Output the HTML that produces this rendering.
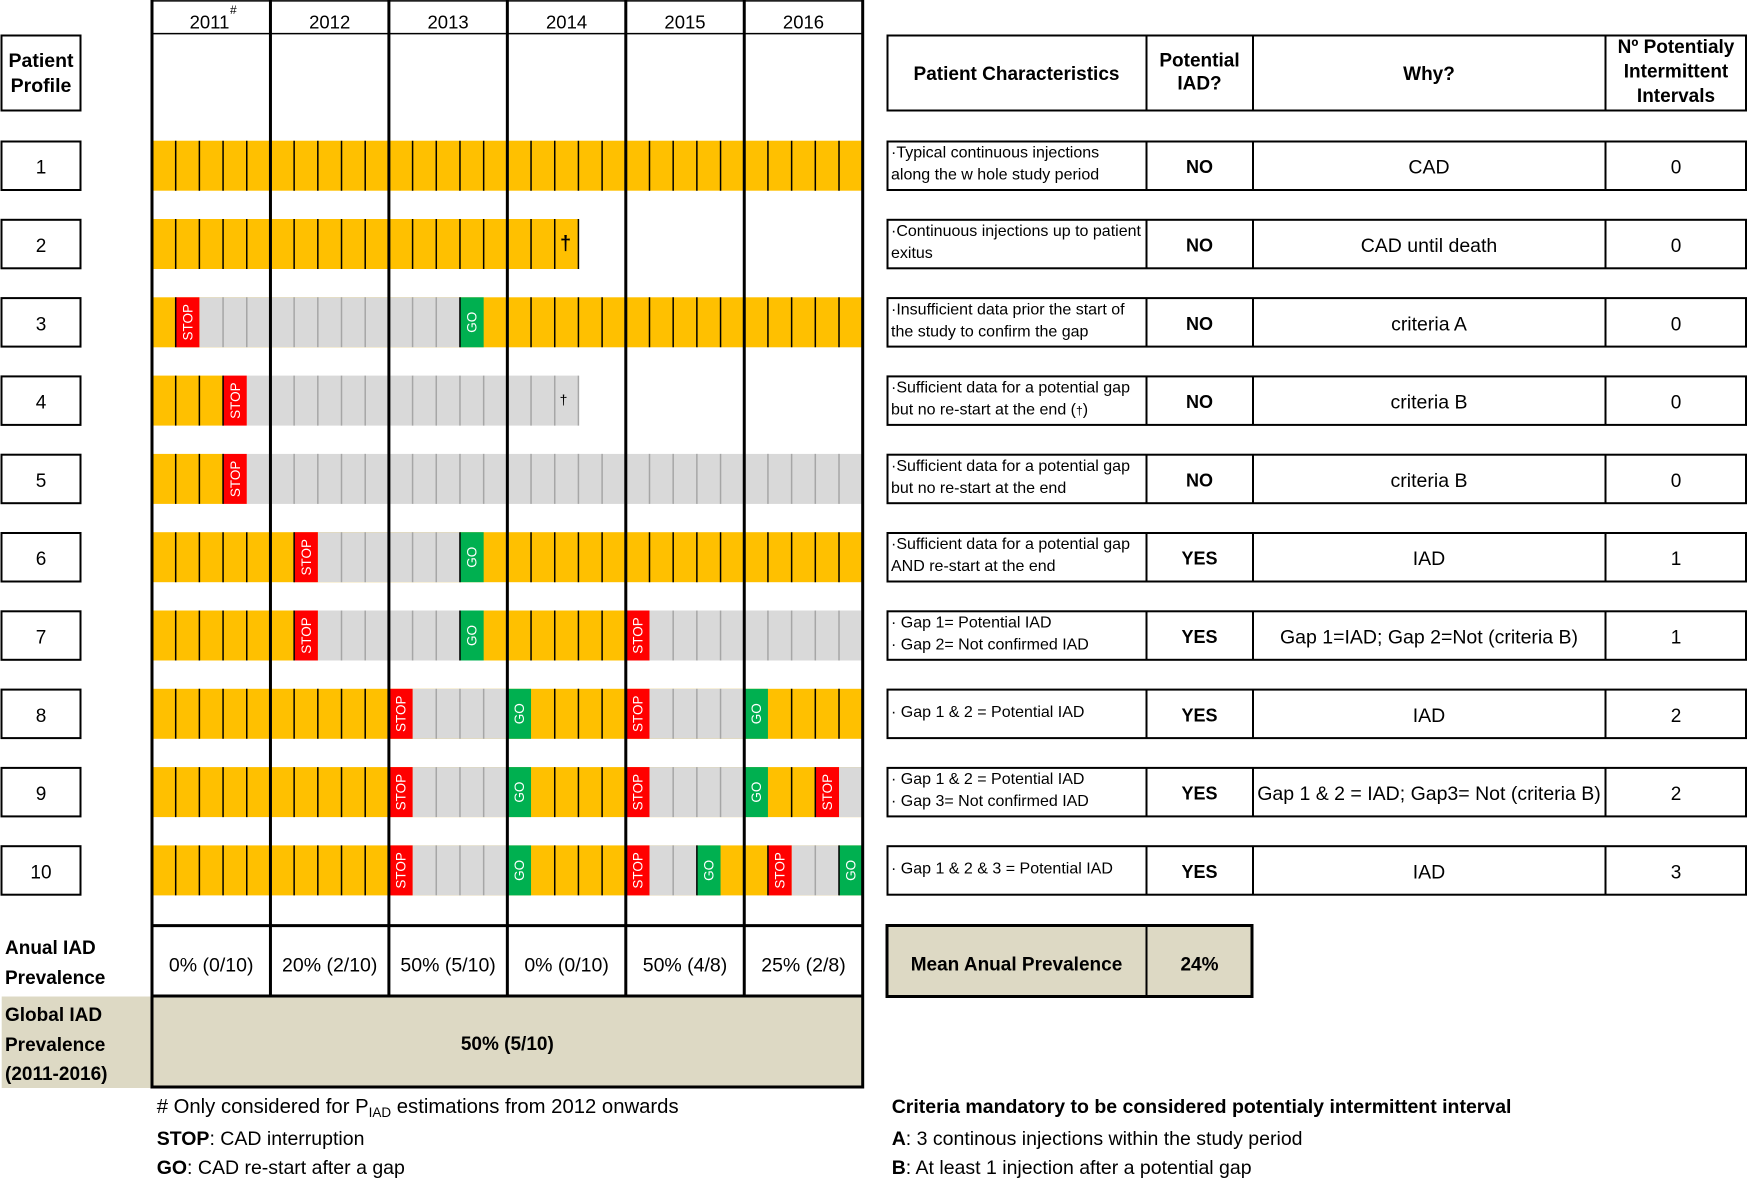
<!DOCTYPE html>
<html><head><meta charset="utf-8">
<style>
html,body{margin:0;padding:0;background:#fff}
svg{display:block}
.st{font-size:13.5px;fill:#fff}
.gd{font-size:13.5px;fill:#fff}
.b{font-weight:bold}
</style></head>
<body>
<svg xmlns="http://www.w3.org/2000/svg" width="1748" height="1178" viewBox="0 0 1748 1178" font-family="'Liberation Sans', Arial, sans-serif">
<rect width="1748" height="1178" fill="#fff"/>

<!-- Global row fills -->
<rect x="152" y="996" width="710.7" height="91" fill="#DDD9C4"/>
<rect x="1.7" y="996.5" width="149.5" height="91.5" fill="#DDD9C4"/>

<!-- ROW 1 -->
<g transform="translate(0,140.7)">
<rect x="152" y="0" width="710.7" height="50" fill="#FFC000"/>
<path stroke="#000" stroke-width="1.5" d="M175.69 0v50M199.38 0v50M223.07 0v50M246.76 0v50M294.14 0v50M317.83 0v50M341.52 0v50M365.21 0v50M412.59 0v50M436.28 0v50M459.97 0v50M483.66 0v50M531.04 0v50M554.73 0v50M578.42 0v50M602.11 0v50M649.49 0v50M673.18 0v50M696.87 0v50M720.56 0v50M767.94 0v50M791.63 0v50M815.32 0v50M839.01 0v50"/>
</g>

<!-- ROW 2 -->
<g transform="translate(0,219)">
<rect x="152" y="0" width="426.42" height="50" fill="#FFC000"/>
<path stroke="#000" stroke-width="1.5" d="M175.69 0v50M199.38 0v50M223.07 0v50M246.76 0v50M294.14 0v50M317.83 0v50M341.52 0v50M365.21 0v50M412.59 0v50M436.28 0v50M459.97 0v50M483.66 0v50M531.04 0v50M554.73 0v50M578.42 0v50"/>
<text x="565.5" y="31" font-size="20" font-weight="bold" text-anchor="middle">†</text>
</g>

<!-- ROW 3 -->
<g transform="translate(0,297.3)">
<rect x="152" y="0" width="710.7" height="50" fill="#FFC000"/>
<rect x="199.38" y="0" width="260.59" height="50" fill="#D9D9D9"/>
<rect x="175.69" y="0" width="23.69" height="50" fill="#FF0000"/>
<rect x="459.97" y="0" width="23.69" height="50" fill="#00B050"/>
<path stroke="#A6A6A6" stroke-width="1.5" d="M223.07 0v50M246.76 0v50M294.14 0v50M317.83 0v50M341.52 0v50M365.21 0v50M412.59 0v50M436.28 0v50"/>
<path stroke="#000" stroke-width="1.5" d="M175.69 0v50M459.97 0v50M531.04 0v50M554.73 0v50M578.42 0v50M602.11 0v50M649.49 0v50M673.18 0v50M696.87 0v50M720.56 0v50M767.94 0v50M791.63 0v50M815.32 0v50M839.01 0v50"/>
<text class="st" transform="translate(187.54,25) rotate(-90)" text-anchor="middle" dy="0.36em">STOP</text>
<text class="gd" transform="translate(471.82,25) rotate(-90)" text-anchor="middle" dy="0.36em">GO</text>
</g>

<!-- ROW 4 -->
<g transform="translate(0,375.6)">
<rect x="152" y="0" width="71.07" height="50" fill="#FFC000"/>
<rect x="246.76" y="0" width="331.66" height="50" fill="#D9D9D9"/>
<rect x="223.07" y="0" width="23.69" height="50" fill="#FF0000"/>
<path stroke="#A6A6A6" stroke-width="1.5" d="M294.14 0v50M317.83 0v50M341.52 0v50M365.21 0v50M412.59 0v50M436.28 0v50M459.97 0v50M483.66 0v50M531.04 0v50M554.73 0v50M578.42 0v50"/>
<path stroke="#000" stroke-width="1.5" d="M175.69 0v50M199.38 0v50M223.07 0v50"/>
<text class="st" transform="translate(234.92,25) rotate(-90)" text-anchor="middle" dy="0.36em">STOP</text>
<text x="563.5" y="29" font-size="14" text-anchor="middle">†</text>
</g>

<!-- ROW 5 -->
<g transform="translate(0,453.9)">
<rect x="152" y="0" width="71.07" height="50" fill="#FFC000"/>
<rect x="246.76" y="0" width="615.94" height="50" fill="#D9D9D9"/>
<rect x="223.07" y="0" width="23.69" height="50" fill="#FF0000"/>
<path stroke="#A6A6A6" stroke-width="1.5" d="M294.14 0v50M317.83 0v50M341.52 0v50M365.21 0v50M412.59 0v50M436.28 0v50M459.97 0v50M483.66 0v50M531.04 0v50M554.73 0v50M578.42 0v50M602.11 0v50M649.49 0v50M673.18 0v50M696.87 0v50M720.56 0v50M767.94 0v50M791.63 0v50M815.32 0v50M839.01 0v50"/>
<path stroke="#000" stroke-width="1.5" d="M175.69 0v50M199.38 0v50M223.07 0v50"/>
<text class="st" transform="translate(234.92,25) rotate(-90)" text-anchor="middle" dy="0.36em">STOP</text>
</g>

<!-- ROW 6 -->
<g transform="translate(0,532.2)">
<rect x="152" y="0" width="710.7" height="50" fill="#FFC000"/>
<rect x="317.83" y="0" width="142.14" height="50" fill="#D9D9D9"/>
<rect x="294.14" y="0" width="23.69" height="50" fill="#FF0000"/>
<rect x="459.97" y="0" width="23.69" height="50" fill="#00B050"/>
<path stroke="#A6A6A6" stroke-width="1.5" d="M341.52 0v50M365.21 0v50M412.59 0v50M436.28 0v50"/>
<path stroke="#000" stroke-width="1.5" d="M175.69 0v50M199.38 0v50M223.07 0v50M246.76 0v50M294.14 0v50M459.97 0v50M531.04 0v50M554.73 0v50M578.42 0v50M602.11 0v50M649.49 0v50M673.18 0v50M696.87 0v50M720.56 0v50M767.94 0v50M791.63 0v50M815.32 0v50M839.01 0v50"/>
<text class="st" transform="translate(305.99,25) rotate(-90)" text-anchor="middle" dy="0.36em">STOP</text>
<text class="gd" transform="translate(471.82,25) rotate(-90)" text-anchor="middle" dy="0.36em">GO</text>
</g>

<!-- ROW 7 -->
<g transform="translate(0,610.5)">
<rect x="152" y="0" width="710.7" height="50" fill="#FFC000"/>
<rect x="317.83" y="0" width="142.14" height="50" fill="#D9D9D9"/>
<rect x="649.49" y="0" width="213.21" height="50" fill="#D9D9D9"/>
<rect x="294.14" y="0" width="23.69" height="50" fill="#FF0000"/>
<rect x="459.97" y="0" width="23.69" height="50" fill="#00B050"/>
<rect x="625.8" y="0" width="23.69" height="50" fill="#FF0000"/>
<path stroke="#A6A6A6" stroke-width="1.5" d="M341.52 0v50M365.21 0v50M412.59 0v50M436.28 0v50M673.18 0v50M696.87 0v50M720.56 0v50M767.94 0v50M791.63 0v50M815.32 0v50M839.01 0v50"/>
<path stroke="#000" stroke-width="1.5" d="M175.69 0v50M199.38 0v50M223.07 0v50M246.76 0v50M294.14 0v50M459.97 0v50M531.04 0v50M554.73 0v50M578.42 0v50M602.11 0v50"/>
<text class="st" transform="translate(305.99,25) rotate(-90)" text-anchor="middle" dy="0.36em">STOP</text>
<text class="gd" transform="translate(471.82,25) rotate(-90)" text-anchor="middle" dy="0.36em">GO</text>
<text class="st" transform="translate(637.65,25) rotate(-90)" text-anchor="middle" dy="0.36em">STOP</text>
</g>

<!-- ROW 8 -->
<g transform="translate(0,688.8)">
<rect x="152" y="0" width="710.7" height="50" fill="#FFC000"/>
<rect x="412.59" y="0" width="94.76" height="50" fill="#D9D9D9"/>
<rect x="649.49" y="0" width="94.76" height="50" fill="#D9D9D9"/>
<rect x="388.9" y="0" width="23.69" height="50" fill="#FF0000"/>
<rect x="507.35" y="0" width="23.69" height="50" fill="#00B050"/>
<rect x="625.8" y="0" width="23.69" height="50" fill="#FF0000"/>
<rect x="744.25" y="0" width="23.69" height="50" fill="#00B050"/>
<path stroke="#A6A6A6" stroke-width="1.5" d="M436.28 0v50M459.97 0v50M483.66 0v50M673.18 0v50M696.87 0v50M720.56 0v50"/>
<path stroke="#000" stroke-width="1.5" d="M175.69 0v50M199.38 0v50M223.07 0v50M246.76 0v50M294.14 0v50M317.83 0v50M341.52 0v50M365.21 0v50M554.73 0v50M578.42 0v50M602.11 0v50M791.63 0v50M815.32 0v50M839.01 0v50"/>
<text class="st" transform="translate(400.75,25) rotate(-90)" text-anchor="middle" dy="0.36em">STOP</text>
<text class="gd" transform="translate(519.2,25) rotate(-90)" text-anchor="middle" dy="0.36em">GO</text>
<text class="st" transform="translate(637.65,25) rotate(-90)" text-anchor="middle" dy="0.36em">STOP</text>
<text class="gd" transform="translate(756.1,25) rotate(-90)" text-anchor="middle" dy="0.36em">GO</text>
</g>

<!-- ROW 9 -->
<g transform="translate(0,767.1)">
<rect x="152" y="0" width="710.7" height="50" fill="#FFC000"/>
<rect x="412.59" y="0" width="94.76" height="50" fill="#D9D9D9"/>
<rect x="649.49" y="0" width="94.76" height="50" fill="#D9D9D9"/>
<rect x="839.01" y="0" width="23.69" height="50" fill="#D9D9D9"/>
<rect x="388.9" y="0" width="23.69" height="50" fill="#FF0000"/>
<rect x="507.35" y="0" width="23.69" height="50" fill="#00B050"/>
<rect x="625.8" y="0" width="23.69" height="50" fill="#FF0000"/>
<rect x="744.25" y="0" width="23.69" height="50" fill="#00B050"/>
<rect x="815.32" y="0" width="23.69" height="50" fill="#FF0000"/>
<path stroke="#A6A6A6" stroke-width="1.5" d="M436.28 0v50M459.97 0v50M483.66 0v50M673.18 0v50M696.87 0v50M720.56 0v50"/>
<path stroke="#000" stroke-width="1.5" d="M175.69 0v50M199.38 0v50M223.07 0v50M246.76 0v50M294.14 0v50M317.83 0v50M341.52 0v50M365.21 0v50M554.73 0v50M578.42 0v50M602.11 0v50M791.63 0v50M815.32 0v50"/>
<text class="st" transform="translate(400.75,25) rotate(-90)" text-anchor="middle" dy="0.36em">STOP</text>
<text class="gd" transform="translate(519.2,25) rotate(-90)" text-anchor="middle" dy="0.36em">GO</text>
<text class="st" transform="translate(637.65,25) rotate(-90)" text-anchor="middle" dy="0.36em">STOP</text>
<text class="gd" transform="translate(756.1,25) rotate(-90)" text-anchor="middle" dy="0.36em">GO</text>
<text class="st" transform="translate(827.17,25) rotate(-90)" text-anchor="middle" dy="0.36em">STOP</text>
</g>

<!-- ROW 10 -->
<g transform="translate(0,845.4)">
<rect x="152" y="0" width="710.7" height="50" fill="#FFC000"/>
<rect x="412.59" y="0" width="94.76" height="50" fill="#D9D9D9"/>
<rect x="649.49" y="0" width="47.38" height="50" fill="#D9D9D9"/>
<rect x="791.63" y="0" width="47.38" height="50" fill="#D9D9D9"/>
<rect x="388.9" y="0" width="23.69" height="50" fill="#FF0000"/>
<rect x="507.35" y="0" width="23.69" height="50" fill="#00B050"/>
<rect x="625.8" y="0" width="23.69" height="50" fill="#FF0000"/>
<rect x="696.87" y="0" width="23.69" height="50" fill="#00B050"/>
<rect x="767.94" y="0" width="23.69" height="50" fill="#FF0000"/>
<rect x="839.01" y="0" width="23.69" height="50" fill="#00B050"/>
<path stroke="#A6A6A6" stroke-width="1.5" d="M436.28 0v50M459.97 0v50M483.66 0v50M673.18 0v50M815.32 0v50"/>
<path stroke="#000" stroke-width="1.5" d="M175.69 0v50M199.38 0v50M223.07 0v50M246.76 0v50M294.14 0v50M317.83 0v50M341.52 0v50M365.21 0v50M554.73 0v50M578.42 0v50M602.11 0v50M696.87 0v50M767.94 0v50M839.01 0v50"/>
<text class="st" transform="translate(400.75,25) rotate(-90)" text-anchor="middle" dy="0.36em">STOP</text>
<text class="gd" transform="translate(519.2,25) rotate(-90)" text-anchor="middle" dy="0.36em">GO</text>
<text class="st" transform="translate(637.65,25) rotate(-90)" text-anchor="middle" dy="0.36em">STOP</text>
<text class="gd" transform="translate(708.72,25) rotate(-90)" text-anchor="middle" dy="0.36em">GO</text>
<text class="st" transform="translate(779.79,25) rotate(-90)" text-anchor="middle" dy="0.36em">STOP</text>
<text class="gd" transform="translate(850.86,25) rotate(-90)" text-anchor="middle" dy="0.36em">GO</text>
</g>

<!-- Timeline grid lines -->
<g stroke="#000" fill="none">
<path stroke-width="1.5" d="M152 0.9H862.7M152 33.6H862.7"/>
<path stroke-width="3" d="M152 925.6H862.7M152 996H862.7M152 1087H862.7"/>
<path stroke-width="3" d="M152 0V1088.5M862.7 0V1088.5M270.45 0V996M388.9 0V996M507.35 0V996M625.8 0V996M744.25 0V996"/>
</g>

<!-- Year headers -->
<g font-size="18.5" text-anchor="middle" fill="#000">
<text x="209.5" y="28.5">2011</text>
<text x="329.7" y="28.5">2012</text>
<text x="448.1" y="28.5">2013</text>
<text x="566.6" y="28.5">2014</text>
<text x="685" y="28.5">2015</text>
<text x="803.5" y="28.5">2016</text>
</g>
<text x="230" y="14" font-size="12">#</text>

<!-- Left patient profile boxes -->
<g fill="none" stroke="#000" stroke-width="2">
<rect x="1.5" y="35.5" width="79" height="75"/>
<rect x="1.5" y="141.5" width="79" height="48.5"/>
<rect x="1.5" y="219.8" width="79" height="48.5"/>
<rect x="1.5" y="298.1" width="79" height="48.5"/>
<rect x="1.5" y="376.4" width="79" height="48.5"/>
<rect x="1.5" y="454.7" width="79" height="48.5"/>
<rect x="1.5" y="533" width="79" height="48.5"/>
<rect x="1.5" y="611.3" width="79" height="48.5"/>
<rect x="1.5" y="689.6" width="79" height="48.5"/>
<rect x="1.5" y="767.9" width="79" height="48.5"/>
<rect x="1.5" y="846.2" width="79" height="48.5"/>
</g>
<g font-size="19.5" font-weight="bold" text-anchor="middle">
<text x="41" y="67">Patient</text>
<text x="41" y="92">Profile</text>
</g>
<g font-size="19" text-anchor="middle">
<text x="41" y="173.7">1</text>
<text x="41" y="252">2</text>
<text x="41" y="330.3">3</text>
<text x="41" y="408.6">4</text>
<text x="41" y="486.9">5</text>
<text x="41" y="565.2">6</text>
<text x="41" y="643.5">7</text>
<text x="41" y="721.8">8</text>
<text x="41" y="800.1">9</text>
<text x="41" y="878.4">10</text>
</g>

<!-- Right table boxes -->
<g fill="none" stroke="#000" stroke-width="2">
<rect x="887.5" y="35.5" width="858.5" height="75"/>
<path d="M1146.5 35.5V110.5M1253 35.5V110.5M1605.5 35.5V110.5"/>
</g>
<g fill="none" stroke="#000" stroke-width="2">
<rect x="887.5" y="141.5" width="858.5" height="48.5"/>
<rect x="887.5" y="219.8" width="858.5" height="48.5"/>
<rect x="887.5" y="298.1" width="858.5" height="48.5"/>
<rect x="887.5" y="376.4" width="858.5" height="48.5"/>
<rect x="887.5" y="454.7" width="858.5" height="48.5"/>
<rect x="887.5" y="533" width="858.5" height="48.5"/>
<rect x="887.5" y="611.3" width="858.5" height="48.5"/>
<rect x="887.5" y="689.6" width="858.5" height="48.5"/>
<rect x="887.5" y="767.9" width="858.5" height="48.5"/>
<rect x="887.5" y="846.2" width="858.5" height="48.5"/>
<path d="M1146.5 141.5v48.5M1253 141.5v48.5M1605.5 141.5v48.5
M1146.5 219.8v48.5M1253 219.8v48.5M1605.5 219.8v48.5
M1146.5 298.1v48.5M1253 298.1v48.5M1605.5 298.1v48.5
M1146.5 376.4v48.5M1253 376.4v48.5M1605.5 376.4v48.5
M1146.5 454.7v48.5M1253 454.7v48.5M1605.5 454.7v48.5
M1146.5 533v48.5M1253 533v48.5M1605.5 533v48.5
M1146.5 611.3v48.5M1253 611.3v48.5M1605.5 611.3v48.5
M1146.5 689.6v48.5M1253 689.6v48.5M1605.5 689.6v48.5
M1146.5 767.9v48.5M1253 767.9v48.5M1605.5 767.9v48.5
M1146.5 846.2v48.5M1253 846.2v48.5M1605.5 846.2v48.5"/>
</g>

<!-- Right header text -->
<g font-size="19" font-weight="bold" text-anchor="middle">
<text x="1016.5" y="80">Patient Characteristics</text>
<text x="1199.5" y="66.5">Potential</text>
<text x="1199.5" y="89.5">IAD?</text>
<text x="1429" y="80">Why?</text>
<text x="1676" y="53">Nº Potentialy</text>
<text x="1676" y="77.5">Intermittent</text>
<text x="1676" y="102">Intervals</text>
</g>

<!-- Characteristics text -->
<g font-size="16">
<text x="891" y="157.7">·Typical continuous injections</text>
<text x="891" y="179.7">along the w hole study period</text>
<text x="891" y="236">·Continuous injections up to patient</text>
<text x="891" y="258">exitus</text>
<text x="891" y="314.3">·Insufficient data prior the start of</text>
<text x="891" y="336.3">the study to confirm the gap</text>
<text x="891" y="392.6">·Sufficient data for a potential gap</text>
<text x="891" y="414.6">but no re-start at the end (<tspan font-size="12">†</tspan>)</text>
<text x="891" y="470.9">·Sufficient data for a potential gap</text>
<text x="891" y="492.9">but no re-start at the end</text>
<text x="891" y="549.2">·Sufficient data for a potential gap</text>
<text x="891" y="571.2">AND re-start at the end</text>
<text x="891" y="627.5">· Gap 1= Potential IAD</text>
<text x="891" y="649.5">· Gap 2= Not confirmed IAD</text>
<text x="891" y="717">· Gap 1 &amp; 2 = Potential IAD</text>
<text x="891" y="784.1">· Gap 1 &amp; 2 = Potential IAD</text>
<text x="891" y="806.1">· Gap 3= Not confirmed IAD</text>
<text x="891" y="873.4">· Gap 1 &amp; 2 &amp; 3 = Potential IAD</text>
</g>

<!-- NO / YES -->
<g font-size="18" font-weight="bold" text-anchor="middle">
<text x="1199.5" y="173.2">NO</text>
<text x="1199.5" y="251.5">NO</text>
<text x="1199.5" y="329.8">NO</text>
<text x="1199.5" y="408.1">NO</text>
<text x="1199.5" y="486.4">NO</text>
<text x="1199.5" y="564.7">YES</text>
<text x="1199.5" y="643">YES</text>
<text x="1199.5" y="721.3">YES</text>
<text x="1199.5" y="799.6">YES</text>
<text x="1199.5" y="877.9">YES</text>
</g>

<!-- Why -->
<g font-size="19.5" text-anchor="middle">
<text x="1429" y="173.7">CAD</text>
<text x="1429" y="252">CAD until death</text>
<text x="1429" y="330.3">criteria A</text>
<text x="1429" y="408.6">criteria B</text>
<text x="1429" y="486.9">criteria B</text>
<text x="1429" y="565.2">IAD</text>
<text x="1429" y="643.5">Gap 1=IAD; Gap 2=Not (criteria B)</text>
<text x="1429" y="721.8">IAD</text>
<text x="1429" y="800.1">Gap 1 &amp; 2 = IAD; Gap3= Not (criteria B)</text>
<text x="1429" y="878.4">IAD</text>
</g>

<!-- Counts -->
<g font-size="19" text-anchor="middle">
<text x="1676" y="173.7">0</text>
<text x="1676" y="252">0</text>
<text x="1676" y="330.3">0</text>
<text x="1676" y="408.6">0</text>
<text x="1676" y="486.9">0</text>
<text x="1676" y="565.2">1</text>
<text x="1676" y="643.5">1</text>
<text x="1676" y="721.8">2</text>
<text x="1676" y="800.1">2</text>
<text x="1676" y="878.4">3</text>
</g>

<!-- Annual prevalence -->
<g font-size="19" font-weight="bold">
<text x="5" y="954">Anual IAD</text>
<text x="5" y="984">Prevalence</text>
<text x="5" y="1021">Global IAD</text>
<text x="5" y="1051">Prevalence</text>
<text x="5" y="1080">(2011-2016)</text>
</g>
<g font-size="19.5" text-anchor="middle">
<text x="211.2" y="971.7">0% (0/10)</text>
<text x="329.7" y="971.7">20% (2/10)</text>
<text x="448.1" y="971.7">50% (5/10)</text>
<text x="566.6" y="971.7">0% (0/10)</text>
<text x="685" y="971.7">50% (4/8)</text>
<text x="803.5" y="971.7">25% (2/8)</text>
</g>
<text x="507.35" y="1050" font-size="19" font-weight="bold" text-anchor="middle">50% (5/10)</text>

<!-- Mean box -->
<rect x="887" y="925.5" width="365" height="71" fill="#DDD9C4" stroke="#000" stroke-width="3"/>
<path d="M1146.5 925.5V996.5" stroke="#000" stroke-width="2"/>
<g font-size="19" font-weight="bold" text-anchor="middle">
<text x="1016.5" y="970.7">Mean Anual Prevalence</text>
<text x="1199.5" y="970.7">24%</text>
</g>

<!-- Footnotes -->
<text x="156.7" y="1113" font-size="20.3"># Only considered for P<tspan font-size="13.5" dy="4">IAD</tspan><tspan dy="-4"> estimations from 2012 onwards</tspan></text>
<g font-size="19.5">
<text x="156.7" y="1145"><tspan font-weight="bold">STOP</tspan>: CAD interruption</text>
<text x="156.7" y="1174"><tspan font-weight="bold">GO</tspan>: CAD re-start after a gap</text>
<text x="891.7" y="1113" font-weight="bold">Criteria mandatory to be considered potentialy intermittent interval</text>
<text x="891.7" y="1145"><tspan font-weight="bold">A</tspan>: 3 continous injections within the study period</text>
<text x="891.7" y="1174"><tspan font-weight="bold">B</tspan>: At least 1 injection after a potential gap</text>
</g>
</svg>
</body></html>
